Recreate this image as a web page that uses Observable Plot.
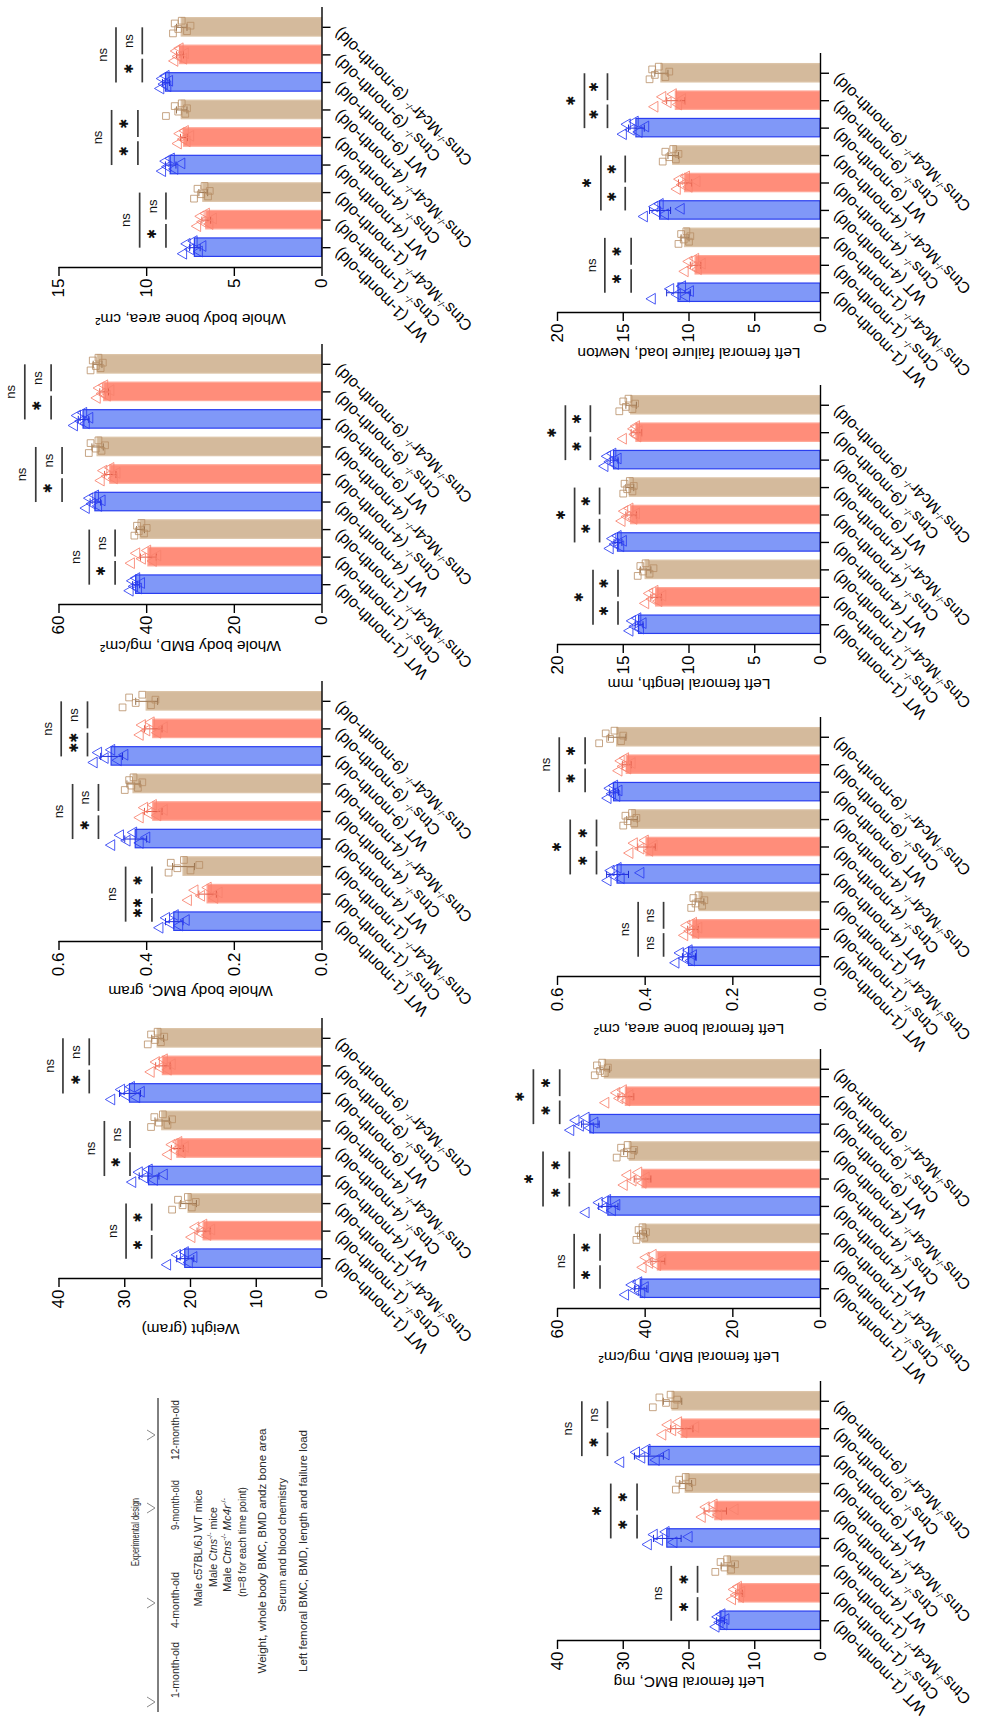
<!DOCTYPE html>
<html><head><meta charset="utf-8">
<script src="https://cdn.jsdelivr.net/npm/d3@7"></script>
<script src="https://cdn.jsdelivr.net/npm/@observablehq/plot@0.6"></script>
<style>
html,body{margin:0;padding:0;background:#fff;}
#fig{position:relative;width:985px;height:1722px;overflow:hidden;background:#fff;}
#fig svg{position:absolute;overflow:visible;}
</style></head><body><div id="fig"></div>
<script>
// ---------- data ----------
const categories = ["WT (1-month-old)","Ctns-/- (1-month-old)","Ctns-/-Mc4r-/- (1-month-old)",
  "WT (4-month-old)","Ctns-/- (4-month-old)","Ctns-/-Mc4r-/- (4-month-old)",
  "WT (9-month-old)","Ctns-/- (9-month-old)","Ctns-/-Mc4r-/- (9-month-old)"];
const genotypes = ["WT","Ctns","CM","WT","Ctns","CM","WT","Ctns","CM"];

const boneAreaMeans = [7.25, 6.6, 6.77, 8.63, 7.87, 8.0, 8.9, 8.1, 8.0];
const boneAreaSD = [0.3, 0.25, 0.25, 0.3, 0.2, 0.3, 0.2, 0.2, 0.3];
const boneAreaPoints = [[7.9,7.7,7.5,7.3,7.0,6.8],[7.1,6.9,6.8,6.6,6.4,6.2],[7.3,7.1,6.9,6.7,6.5,6.4],
  [9.1,8.9,8.8,8.6,8.4,8.0],[8.2,8.1,7.9,7.8,7.7,7.5],[8.9,8.4,8.2,8.0,7.8,7.7],
  [9.2,9.1,9.0,8.9,8.8,8.7],[8.4,8.3,8.2,8.1,7.9,7.8],[8.5,8.4,8.2,8.0,7.7,7.5]];
const boneAreaSigLevels = [[8.9,10.4],[10.5,12.0],[10.25,11.75]];
const boneAreaSig = [["*","ns","ns"],["*","*","ns"],["*","ns","ns"]];

const bmdMeans = [42.4, 39.6, 41.4, 51.7, 48.3, 51.2, 54.4, 49.7, 51.2];
const bmdSD = [0.8, 1.8, 0.9, 1.2, 1.3, 1.3, 1.2, 1.0, 1.0];
const bmdPoints = [[43.8,43.2,42.8,42.3,41.9,41.2],[43.5,42.3,41.0,39.8,38.5,37.5],[42.8,42.2,41.8,41.2,40.6,40.0],
  [53.8,53.0,52.4,51.7,51.0,50.2],[50.4,49.8,49.0,48.2,47.4,46.8],[53.2,52.8,51.6,51.0,50.3,49.5],
  [56.5,55.8,55.0,54.4,53.8,53.0],[51.3,50.8,50.1,49.6,49.0,48.2],[52.8,52.3,51.6,51.0,50.5,50.0]];
const bmdSigLevels = [[47.2,53.1],[59.3,65.3],[61.8,67.8]];
const bmdSig = [["*","ns","ns"],["*","ns","ns"],["*","ns","ns"]];

const bmcMeans = [0.337, 0.261, 0.316, 0.425, 0.385, 0.43, 0.48, 0.385, 0.40];
const bmcSD = [0.02, 0.02, 0.025, 0.025, 0.02, 0.015, 0.025, 0.02, 0.025];
const bmcPoints = [[0.37,0.355,0.345,0.335,0.325,0.31],[0.305,0.29,0.275,0.26,0.245,0.235],[0.35,0.345,0.33,0.315,0.30,0.28],
  [0.48,0.46,0.445,0.43,0.415,0.40],[0.415,0.405,0.395,0.385,0.375,0.36],[0.45,0.44,0.435,0.43,0.42,0.41],
  [0.52,0.51,0.495,0.48,0.465,0.45],[0.415,0.41,0.40,0.39,0.375,0.36],[0.455,0.44,0.425,0.41,0.39,0.38]];
const bmcSigLevels = [[0.388,0.448],[0.510,0.569],[0.535,0.595]];
const bmcSig = [["**","*","ns"],["*","ns","ns"],["**","ns","ns"]];

const weightMeans = [20.8, 18.0, 20.3, 26.3, 22.0, 24.3, 29.2, 24.2, 25.0];
const weightSD = [1.3, 1.0, 1.2, 1.5, 0.9, 1.1, 1.6, 1.1, 0.9];
const weightPoints = [[23.5,22.0,21.3,20.8,20.2,19.5],[19.8,19.2,18.5,18.0,17.4,16.8],[22.8,21.9,21.2,20.4,19.8,19.2],
  [28.8,27.8,27.0,26.3,25.5,24.0],[23.4,22.8,22.3,21.8,21.3,20.8],[26.0,25.5,24.8,24.2,23.5,22.8],
  [32.0,30.5,29.8,29.0,28.2,27.5],[26.0,25.2,24.6,24.0,23.4,22.8],[26.5,26.0,25.4,25.0,24.5,24.0]];
const weightSigLevels = [[25.9,29.8],[29.2,33.1],[35.4,39.4]];
const weightSig = [["*","*","ns"],["*","ns","ns"],["*","ns","ns"]];

const failMeans = [10.8, 9.5, 10.3, 12.2, 10.3, 11.2, 14.0, 11.0, 12.1];
const failSD = [0.9, 0.4, 0.3, 0.8, 0.5, 0.4, 0.6, 0.7, 0.5];
const failPoints = [[12.8,11.4,10.9,10.5,10.2,9.9],[10.3,10.0,9.7,9.5,9.3,9.0],[10.8,10.6,10.4,10.2,10.0,9.9],
  [13.4,12.6,12.4,12.2,11.8,10.6],[10.9,10.7,10.5,10.2,10.0,9.4],[12.0,11.8,11.5,11.2,11.0,10.8],
  [15.0,14.7,14.4,14.1,13.8,13.3],[12.6,12.0,11.6,11.2,10.8,10.5],[13.0,12.8,12.6,12.3,11.8,11.5]];
const failSigLevels = [[14.4,16.4],[14.85,16.7],[16.2,17.95]];
const failSig = [["*","*","ns"],["*","*","*"],["*","*","*"]];

const lengthMeans = [13.8, 12.5, 13.3, 15.4, 14.4, 14.5, 15.7, 14.0, 14.4];
const lengthSD = [0.3, 0.4, 0.4, 0.3, 0.4, 0.3, 0.3, 0.4, 0.4];
const lengthPoints = [[14.5,14.3,14.1,13.9,13.7,13.5],[13.3,13.0,12.8,12.6,12.3,12.0],[13.9,13.7,13.5,13.3,13.0,12.7],
  [16.0,15.8,15.6,15.4,15.2,15.0],[15.1,14.9,14.7,14.5,14.2,14.0],[15.0,14.9,14.7,14.5,14.3,14.2],
  [16.4,16.2,16.0,15.8,15.6,15.4],[15.0,14.2,14.1,14.0,13.9,13.8],[15.3,15.0,14.8,14.6,14.3,14.1]];
const lengthSigLevels = [[15.4,17.3],[16.8,18.7],[17.5,19.4]];
const lengthSig = [["*","*","*"],["*","*","*"],["*","*","*"]];

const femAreaMeans = [0.30, 0.291, 0.276, 0.463, 0.397, 0.43, 0.471, 0.442, 0.464];
const femAreaSD = [0.015, 0.012, 0.01, 0.025, 0.02, 0.012, 0.01, 0.01, 0.02];
const femAreaPoints = [[0.33,0.32,0.31,0.30,0.295,0.29],[0.31,0.305,0.298,0.29,0.285,0.278],[0.295,0.29,0.285,0.278,0.27,0.265],
  [0.485,0.478,0.47,0.462,0.455,0.41],[0.435,0.425,0.41,0.40,0.39,0.38],[0.45,0.445,0.44,0.43,0.425,0.42],
  [0.485,0.48,0.475,0.47,0.465,0.46],[0.46,0.455,0.45,0.445,0.44,0.43],[0.505,0.49,0.48,0.47,0.455,0.45]];
const femAreaSigLevels = [[0.358,0.416],[0.511,0.571],[0.537,0.596]];
const femAreaSig = [["ns","ns","ns"],["*","*","*"],["*","*","ns"]];

const femBmdMeans = [41.0, 37.1, 40.5, 48.4, 40.6, 43.5, 52.5, 44.4, 49.2];
const femBmdSD = [1.4, 1.6, 0.8, 2.2, 1.9, 1.4, 2.0, 1.8, 1.1];
const femBmdPoints = [[44.5,43.0,42.2,41.5,40.8,40.0],[40.5,39.8,39.0,38.2,37.2,36.0],[42.0,41.5,41.0,40.6,40.2,39.8],
  [53.5,50.5,49.5,48.6,47.5,46.5],[44.8,44.0,42.8,41.5,40.5,39.8],[46.5,45.5,44.8,44.0,43.2,42.5],
  [57.0,55.8,54.8,53.5,52.5,51.5],[49.0,46.5,45.8,45.0,44.2,43.5],[51.5,51.0,50.3,49.8,49.2,48.5]];
const femBmdSigLevels = [[50.3,56.2],[57.3,63.3],[59.5,65.5]];
const femBmdSig = [["*","*","ns"],["*","*","*"],["*","*","*"]];

const femBmcMeans = [15.2, 12.4, 14.1, 23.3, 16.0, 20.5, 26.1, 21.1, 22.5];
const femBmcSD = [0.6, 0.5, 1.0, 2.1, 1.7, 0.9, 2.2, 1.7, 1.4];
const femBmcPoints = [[15.9,15.6,15.3,15.0,14.7,14.4],[13.4,13.1,12.8,12.5,12.2,12.0],[16.0,15.2,14.6,14.2,13.6,13.0],
  [26.2,25.3,24.5,23.5,22.3,20.0],[18.0,17.4,16.8,16.2,15.5,13.0],[22.0,21.5,21.0,20.5,20.0,19.5],
  [30.4,28.0,27.2,26.4,25.0,23.5],[24.0,23.2,22.5,21.6,20.8,19.0],[25.5,24.5,23.5,22.8,22.2,21.8]];
const femBmcSigLevels = [[18.7,22.7],[27.9,31.9],[32.4,36.3]];
const femBmcSig = [["*","*","ns"],["*","*","*"],["*","ns","ns"]];

// ---------- styles / layout ----------
const FONT = "'Liberation Sans', Arial, Helvetica, sans-serif";
const FILL = {WT: "#8098f8", Ctns: "#ff8d7a", CM: "#d4ba9c"};
const EDGE = {WT: "#2a3ef0", Ctns: "#ffa898", CM: "#dcc4a8"};
const PT = {WT: "#2b3df2", Ctns: "#f8826f", CM: "#b88f66"};
const ERR = {WT: "#1c2bd6", Ctns: "#e05c48", CM: "#9a7450"};
const jitter = [-0.22, 0.14, -0.06, 0.24, -0.14, 0.06];

const panels = [
  {col:0,row:0,label:"Whole body bone area, cm²",max:15,ticks:[0,5,10,15],fmt:d=>String(d),labelDy:51,
   means:boneAreaMeans,sd:boneAreaSD,points:boneAreaPoints,lev:boneAreaSigLevels,sig:boneAreaSig},
  {col:0,row:1,label:"Whole body BMD, mg/cm²",max:60,ticks:[0,20,40,60],fmt:d=>String(d),labelDy:41,
   means:bmdMeans,sd:bmdSD,points:bmdPoints,lev:bmdSigLevels,sig:bmdSig},
  {col:0,row:2,label:"Whole body BMC, gram",max:0.6,ticks:[0,0.2,0.4,0.6],fmt:d=>d.toFixed(1),labelDy:49,
   means:bmcMeans,sd:bmcSD,points:bmcPoints,lev:bmcSigLevels,sig:bmcSig},
  {col:0,row:3,label:"Weight (gram)",max:40,ticks:[0,10,20,30,40],fmt:d=>String(d),labelDy:50,
   means:weightMeans,sd:weightSD,points:weightPoints,lev:weightSigLevels,sig:weightSig},
  {col:1,row:0,label:"Left femoral failure load, Newton",max:20,ticks:[0,5,10,15,20],fmt:d=>String(d),labelDy:40,
   means:failMeans,sd:failSD,points:failPoints,lev:failSigLevels,sig:failSig},
  {col:1,row:1,label:"Left femoral length, mm",max:20,ticks:[0,5,10,15,20],fmt:d=>String(d),labelDy:39,
   means:lengthMeans,sd:lengthSD,points:lengthPoints,lev:lengthSigLevels,sig:lengthSig},
  {col:1,row:2,label:"Left femoral bone area, cm²",max:0.6,ticks:[0,0.2,0.4,0.6],fmt:d=>d.toFixed(1),labelDy:52,
   means:femAreaMeans,sd:femAreaSD,points:femAreaPoints,lev:femAreaSigLevels,sig:femAreaSig},
  {col:1,row:3,label:"Left femoral BMD, mg/cm²",max:60,ticks:[0,20,40,60],fmt:d=>String(d),labelDy:48,
   means:femBmdMeans,sd:femBmdSD,points:femBmdPoints,lev:femBmdSigLevels,sig:femBmdSig},
  {col:1,row:4,label:"Left femoral BMC, mg",max:40,ticks:[0,10,20,30,40],fmt:d=>String(d),labelDy:41,
   means:femBmcMeans,sd:femBmcSD,points:femBmcPoints,lev:femBmcSigLevels,sig:femBmcSig}
];

const fig = document.getElementById("fig");
const SVGNS = "http://www.w3.org/2000/svg";

function supify(el) {
  const s = el.textContent;
  if (!s.includes("-/-")) return;
  el.textContent = "";
  const parts = s.split("-/-");
  parts.forEach((part, j) => {
    if (part) { const t = document.createElementNS(SVGNS, "tspan"); t.textContent = part; el.appendChild(t); }
    if (j < parts.length - 1) {
      const sup = document.createElementNS(SVGNS, "tspan");
      sup.setAttribute("baseline-shift", "super");
      sup.setAttribute("font-size", "62%");
      sup.textContent = "-/-";
      el.appendChild(sup);
    }
  });
}

function drawPanel(p) {
  const left = p.col === 0;
  const width = left ? 490 : 495;
  const marginLeft = left ? 58.5 : 67;
  const marginRight = left ? 168.5 : 165;
  const marginTop = left ? 7 : 53;
  const inner = left ? 260 : 259;
  const marginBottom = 70;
  const height = marginTop + inner + marginBottom;
  const top = left ? 337 * p.row : 332 * p.row;

  const rows = categories.map((cat, i) => ({i, cat, g: genotypes[i], v: p.means[i], sd: p.sd[i]}));
  const pts = p.points.flatMap((arr, i) => arr.map((v, k) => ({i, k, g: genotypes[i], v, y: i + jitter[k]})));
  const caps = rows.flatMap(d => [{i: d.i, g: d.g, x: d.v + d.sd}, {i: d.i, g: d.g, x: d.v - d.sd}]);
  const sigLines = [], sigText = [];
  p.lev.forEach(([s, l], gi) => {
    const b = 3 * gi;
    sigLines.push({x: s, y1: b + 2, y2: b + 1.02}, {x: s, y1: b + 0.86, y2: b}, {x: l, y1: b + 2, y2: b});
    sigText.push({x: s, y: b + 0.5, t: p.sig[gi][0]}, {x: s, y: b + 1.5, t: p.sig[gi][1]}, {x: l, y: b + 1, t: p.sig[gi][2]});
  });
  const nsText = sigText.filter(d => d.t === "ns");
  const starText = sigText.filter(d => d.t !== "ns").map(d => ({...d, t: d.t.replace(/\*/g, "\u2731")}));

  const svg = Plot.plot({
    width, height, marginLeft, marginRight, marginTop, marginBottom,
    x: {domain: [0, p.max], reverse: true},
    y: {domain: [-0.72, 8.72]},
    color: {type: "identity"},
    style: {fontFamily: FONT, background: "transparent", overflow: "visible", color: "#000"},
    marks: [
      Plot.rectX(rows, {x1: 0, x2: "v", y1: d => d.i - 0.335, y2: d => d.i + 0.335,
        fill: d => FILL[d.g], stroke: d => EDGE[d.g], strokeWidth: 1.2}),
      Plot.link(rows, {x1: d => d.v - d.sd, x2: d => d.v + d.sd, y1: "i", y2: "i", stroke: d => ERR[d.g], strokeWidth: 1}),
      Plot.link(caps, {x1: "x", x2: "x", y1: d => d.i - 0.13, y2: d => d.i + 0.13, stroke: d => ERR[d.g], strokeWidth: 1}),
      Plot.dot(pts.filter(d => d.g !== "CM"), {x: "v", y: "y", symbol: "triangle", rotate: -90, r: 4,
        fill: "none", stroke: d => PT[d.g], strokeWidth: 1, strokeOpacity: 0.85}),
      Plot.dot(pts.filter(d => d.g === "CM"), {x: "v", y: "y", symbol: "square", r: 3.8,
        fill: "none", stroke: d => PT[d.g], strokeWidth: 1, strokeOpacity: 0.8}),
      Plot.link(sigLines, {x1: "x", x2: "x", y1: "y1", y2: "y2", stroke: "#3a3a3a", strokeWidth: 1.7}),
      Plot.text(nsText, {x: "x", y: "y", text: "t", dx: -13.5, rotate: -90, fontSize: 13,
        textAnchor: "middle", lineAnchor: "middle", fill: "#111"}),
      Plot.text(starText, {x: "x", y: "y", text: "t", dx: -13.5, rotate: -90, fontSize: 12,
        fontFamily: "'DejaVu Sans', sans-serif", textAnchor: "middle", lineAnchor: "middle", fill: "#111"}),
      Plot.ruleX([0], {stroke: "#000", strokeWidth: 1.4}),
      Plot.ruleY([-0.72], {stroke: "#000", strokeWidth: 1.4}),
      Plot.axisX({ticks: p.ticks, tickSize: 9, tickFormat: () => "", label: null, strokeWidth: 1.4}),
      Plot.axisY({anchor: "right", ticks: d3.range(9), tickSize: 8, tickFormat: () => "", label: null, strokeWidth: 1.4}),
      Plot.text(p.ticks, {x: d => d, frameAnchor: "bottom", dy: 11, text: p.fmt, rotate: -90,
        textAnchor: "end", lineAnchor: "middle", fontSize: 17, fill: "#000"}),
      Plot.text([p.label], {frameAnchor: "bottom", dy: p.labelDy, text: d => d, rotate: 180,
        textAnchor: "middle", lineAnchor: "middle", fontSize: 15.5, fill: "#000"}),
      Plot.text(rows, {x: 0, y: "i", text: "cat", dx: 15, dy: 3, rotate: -135, textAnchor: "end",
        lineAnchor: "middle", fontSize: 16, fill: "#000", ariaLabel: "catlabel"})
    ]
  });
  svg.style.left = (left ? 0 : 490) + "px";
  svg.style.top = top + "px";
  fig.appendChild(svg);
  svg.querySelectorAll("text").forEach(supify);
}

panels.forEach(drawPanel);

// ---------- experimental design (rotated text block) ----------
const timepoints = ["12-month-old", "9-month-old", "4-month-old", "1-month-old"];
const designLines = ["Male c57BL/6J WT mice", "Male Ctns-/- mice", "Male Ctns-/- Mc4r-/-", "(n=8 for each time point)",
  "Weight, whole body BMC, BMD andz bone area", "Serum and blood chemistry", "Left femoral BMC, BMD, length and failure load"];

const ds = d3.select(fig).append("svg").attr("width", 985).attr("height", 1722)
  .style("left", "0px").style("top", "0px").style("pointer-events", "none")
  .attr("font-family", FONT);
function rtext(x, y, size, len) {
  return ds.append("text").attr("transform", `translate(${x},${y}) rotate(-90)`)
    .attr("text-anchor", "middle").attr("dominant-baseline", "central")
    .attr("font-size", size).attr("fill", "#2a2a2a")
    .attr("textLength", len).attr("lengthAdjust", "spacingAndGlyphs");
}
rtext(135, 1532, 10, 68).text("Experimental design");
ds.append("line").attr("x1", 158).attr("x2", 158).attr("y1", 1398).attr("y2", 1712).attr("stroke", "#000").attr("stroke-width", 1);
[1435, 1508, 1603, 1702].forEach(y => {
  ds.append("polyline").attr("points", `147,${y - 5} 155,${y} 147,${y + 5}`)
    .attr("fill", "none").attr("stroke", "#8a8a8a").attr("stroke-width", 1);
});
const tpY = [1430, 1505, 1600, 1670];
const tpLen = [60, 50, 56, 56];
timepoints.forEach((t, i) => rtext(175, tpY[i], 10.5, tpLen[i]).text(t));
const lineX = [198, 213, 227, 242, 262, 282, 303];
const lineY = [1548, 1547, 1545, 1542, 1551, 1545, 1551];
const lineLen = [117, 80, 94, 110, 245, 134, 242];
designLines.forEach((s, i) => {
  const t = rtext(lineX[i], lineY[i], 10.5, lineLen[i]);
  const re = /(Ctns|Mc4r)(-\/-)?/g;
  let last = 0, m;
  while ((m = re.exec(s))) {
    if (m.index > last) t.append("tspan").text(s.slice(last, m.index));
    t.append("tspan").attr("font-style", "italic").text(m[1]);
    if (m[2]) t.append("tspan").attr("baseline-shift", "super").attr("font-size", "65%").text(m[2]);
    last = re.lastIndex;
  }
  if (last < s.length) t.append("tspan").text(s.slice(last));
});
</script></body></html>
